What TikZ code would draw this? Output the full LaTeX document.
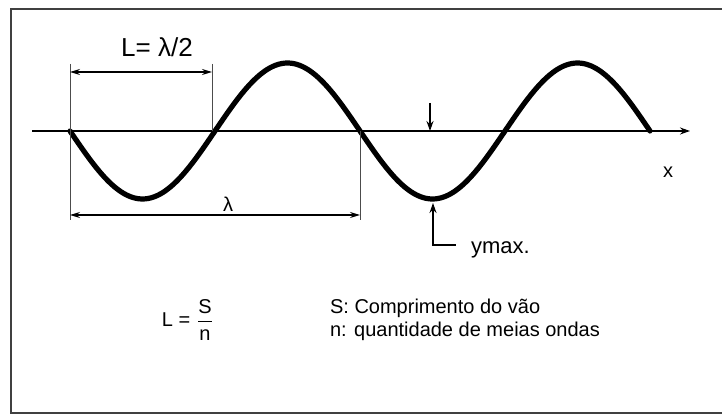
\documentclass[tikz,border=0pt]{standalone}
\usepackage{fontspec}
\setmainfont{Liberation Sans}
\usetikzlibrary{arrows.meta}
\begin{document}
\begin{tikzpicture}[
    x=0.5pt, y=-0.5pt,
    sagFrameStyle/.style={line width=1pt, black!75},
    sagAxisStyle/.style={line width=0.6pt},
    sagWaveStyle/.style={line width=2.6pt, line cap=round, line join=round},
    sagDimStyle/.style={line width=0.6pt, {Stealth[length=5pt,width=3pt]}-{Stealth[length=5pt,width=3pt]}},
    sagExtStyle/.style={line width=0.5pt, black!70},
    >={Stealth[length=5pt,width=3.5pt]}
]
    \useasboundingbox (0,0) rectangle (722,415);
    % moldura
    \draw[sagFrameStyle] (722,9) -- (11,9) -- (11,413) -- (722,413);

    % pontos de referencia
    \coordinate (xs) at (32,131);
    \coordinate (xe) at (690,131);
    \coordinate (o) at (70,131);
    \coordinate (h) at (212,131);
    \coordinate (w) at (360,131);

    % eixo
    \draw[sagAxisStyle, ->] (xs) -- (xe);
    \node (xlabel) at (668,172) {x};

    % onda (meia onda = 145)
    \draw[sagWaveStyle, domain=0:580, samples=120, smooth, variable=\t]
        plot (70+\t, {131 + 68*sin(1.24138*\t)});

    % linhas de chamada
    \coordinate (oTop) at (70,64);
    \coordinate (oBot) at (70,220);
    \coordinate (hTop) at (212,64);
    \coordinate (wBot) at (360,220);
    \draw[sagExtStyle] (oTop) -- (oBot);
    \draw[sagExtStyle] (hTop) -- (h);
    \draw[sagExtStyle] (w) -- (wBot);

    % cotas
    \coordinate (dA) at (70,72);
    \coordinate (dB) at (212,72);
    \coordinate (dC) at (70,215);
    \coordinate (dD) at (360,215);
    \draw[sagDimStyle] (dA) -- (dB);
    \draw[sagDimStyle] (dC) -- (dD);
    \node[font=\fontsize{13}{15}\selectfont] (halfLabel) at (157,47) {L= λ/2};
    \node (lambdaLabel) at (228,204) {λ};

    % amplitude
    \coordinate (aTop) at (430,103);
    \coordinate (aTip) at (430,131);
    \coordinate (bTip) at (433,203);
    \coordinate (bBend) at (433,245);
    \coordinate (bEnd) at (456,245);
    \draw[line width=0.9pt, ->] (aTop) -- (aTip);
    \draw[line width=0.7pt, <-] (bTip) -- (bBend) -- (bEnd);
    \node[anchor=west, font=\fontsize{11}{13}\selectfont] (ymaxLabel) at (464,250) {ymax.};

    % legenda
    \node (formula) at (188,320) {L = $\displaystyle\frac{\hbox{S}}{\hbox{n}}$};
    \node[anchor=west] (legS) at (323,308) {S: Comprimento do vão};
    \node[anchor=west] (legN) at (323,331) {n: quantidade de meias ondas};
\end{tikzpicture}
\end{document}
